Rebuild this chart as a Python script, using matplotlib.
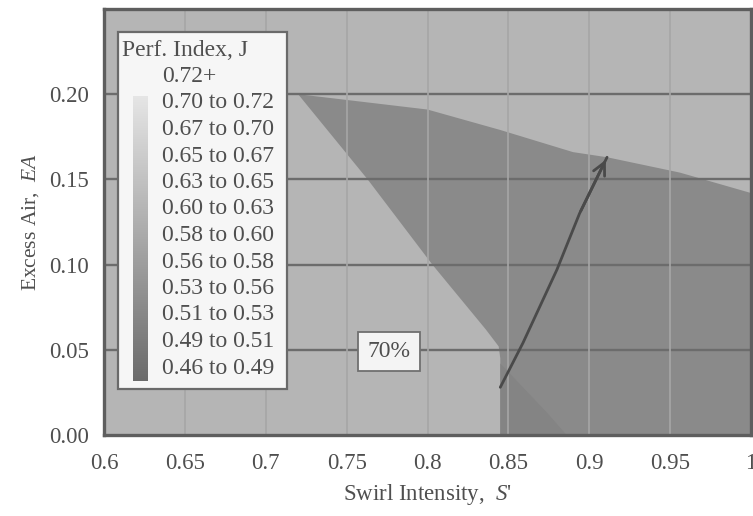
import numpy as np
import matplotlib
matplotlib.use("Agg")
import matplotlib.pyplot as plt
from matplotlib.colors import LinearSegmentedColormap, Normalize
from matplotlib.patches import Rectangle

plt.rcParams['font.family'] = ['Liberation Serif', 'DejaVu Serif']
plt.rcParams['mathtext.fontset'] = 'custom'
plt.rcParams['mathtext.rm'] = 'Liberation Serif'
plt.rcParams['mathtext.it'] = 'Liberation Serif:italic'

# ---------------- data ----------------
x_ticks = [0.6, 0.65, 0.7, 0.75, 0.8, 0.85, 0.9, 0.95, 1.0]
x_tick_labels = ['0.6', '0.65', '0.7', '0.75', '0.8', '0.85', '0.9', '0.95', '1']
y_ticks = [0.0, 0.05, 0.10, 0.15, 0.20]
y_tick_labels = ['0.00', '0.05', '0.10', '0.15', '0.20']

legend_title = 'Perf. Index, J'
legend_labels = ['0.72+', '0.70 to 0.72', '0.67 to 0.70', '0.65 to 0.67',
                 '0.63 to 0.65', '0.60 to 0.63', '0.58 to 0.60', '0.56 to 0.58',
                 '0.53 to 0.56', '0.51 to 0.53', '0.49 to 0.51', '0.46 to 0.49']
J_min, J_max = 0.46, 0.72

# background (light) region value
J_background = 0.617
# medium region (boundary)
mid_S = [0.72, 0.80, 0.845, 0.89, 0.911, 0.956, 1.0, 1.0, 0.845, 0.845,
         0.844, 0.836, 0.803, 0.763, 0.72]
mid_EA = [0.20, 0.191, 0.179, 0.166, 0.163, 0.154, 0.142, 0.0, 0.0, 0.045,
          0.052, 0.062, 0.10, 0.15, 0.20]
J_mid = 0.527
# darker corner region near the bottom
low_S = [0.845, 0.86, 0.874, 0.886, 0.845]
low_EA = [0.042, 0.027, 0.013, 0.0, 0.0]
J_low = 0.512

# search path (arrow)
path_S = [0.845, 0.859, 0.880, 0.894, 0.911]
path_EA = [0.028, 0.054, 0.097, 0.130, 0.163]

note_text = '70%'
note_S, note_EA = 0.776, 0.049

# ---------------- style ----------------
cmap = LinearSegmentedColormap.from_list('scan_gray', [(0.42, 0.42, 0.42), (0.90, 0.90, 0.90)])
norm = Normalize(J_min, J_max)
text_col = '#4f4f4f'
fs_tick = 16.5
fs_leg = 17

W, H = 753, 516
fig = plt.figure(figsize=(W / 100, H / 100), dpi=100)
ax_l, ax_r, ax_t, ax_b = 104, 751, 9, 435
ax = fig.add_axes([ax_l / W, 1 - ax_b / H, (ax_r - ax_l) / W, (ax_b - ax_t) / H])
ax.set_xlim(0.6, 1.0)
ax.set_ylim(0.0, 0.25)

ax.set_facecolor(cmap(norm(J_background)))
ax.fill(mid_S, mid_EA, color=cmap(norm(J_mid)), lw=0, zorder=1)
ax.fill(low_S, low_EA, color=cmap(norm(J_low)), lw=0, zorder=1)

# grid
for yv in y_ticks[1:]:
    ax.axhline(yv, color='#6c6c6c', lw=1.7, zorder=2)
for xv in x_ticks[1:-1]:
    ax.axvline(xv, color='#a6a6a6', lw=1.2, zorder=2)

# path with arrow
ax.plot(path_S, path_EA, color='#4a4a4a', lw=2.0, zorder=3, solid_capstyle='round')
ax.annotate('', xy=(path_S[-1], path_EA[-1]), xytext=(path_S[-2], path_EA[-2]),
            arrowprops=dict(arrowstyle='->', color='#4a4a4a', lw=2.0, mutation_scale=22),
            zorder=3)

# note box
ax.text(note_S, note_EA, note_text, fontsize=fs_leg, color=text_col, ha='center', va='center',
        zorder=4, bbox=dict(boxstyle='square,pad=0.4', fc='#f4f4f4', ec='#707070', lw=1.3))

# ticks & labels
ax.set_xticks(x_ticks)
ax.set_xticklabels(x_tick_labels)
ax.set_yticks(y_ticks)
ax.set_yticklabels(y_tick_labels)
ax.tick_params(axis='x', length=0, pad=13, labelsize=fs_tick, labelcolor=text_col)
ax.tick_params(axis='y', length=0, pad=11, labelsize=fs_tick, labelcolor=text_col)
for sp in ax.spines.values():
    sp.set_color('#5e5e5e')
    sp.set_linewidth(2.4)

ax.set_xlabel("Swirl Intensity,  $\\mathit{S}$'", fontsize=fs_tick, color=text_col)
ax.set_ylabel("Excess Air,  $\\mathit{EA}$", fontsize=15.5, color=text_col)
ax.xaxis.set_label_coords(0.5, -0.11)
ax.yaxis.set_label_coords(-0.098, 0.5)

# legend box
def fx(px):
    return (px - ax_l) / (ax_r - ax_l)

def fy(py):
    return (ax_b - py) / (ax_b - ax_t)

ax.add_patch(Rectangle((fx(118), fy(389)), fx(287) - fx(118), fy(32) - fy(389),
                       transform=ax.transAxes, fc='#f6f6f6', ec='#6a6a6a', lw=1.6, zorder=5))
ax.text(fx(122), fy(50), legend_title, transform=ax.transAxes, fontsize=fs_leg,
        color=text_col, ha='left', va='center', zorder=6)
y0, dy = 76.5, 26.5
for i, lab in enumerate(legend_labels):
    ax.text(fx(162), fy(y0 + i * dy), lab, transform=ax.transAxes, fontsize=fs_leg,
            color=text_col, ha='left', va='center', zorder=6)

# gradient bar
bar_l, bar_r, bar_t, bar_b = 133, 148, 96, 381
bax = fig.add_axes([bar_l / W, 1 - bar_b / H, (bar_r - bar_l) / W, (bar_b - bar_t) / H])
grad = np.linspace(J_max, J_min, 256).reshape(-1, 1)
bax.imshow(grad, cmap=cmap, norm=norm, aspect='auto')
bax.set_axis_off()

fig.savefig('out.png', dpi=100)
